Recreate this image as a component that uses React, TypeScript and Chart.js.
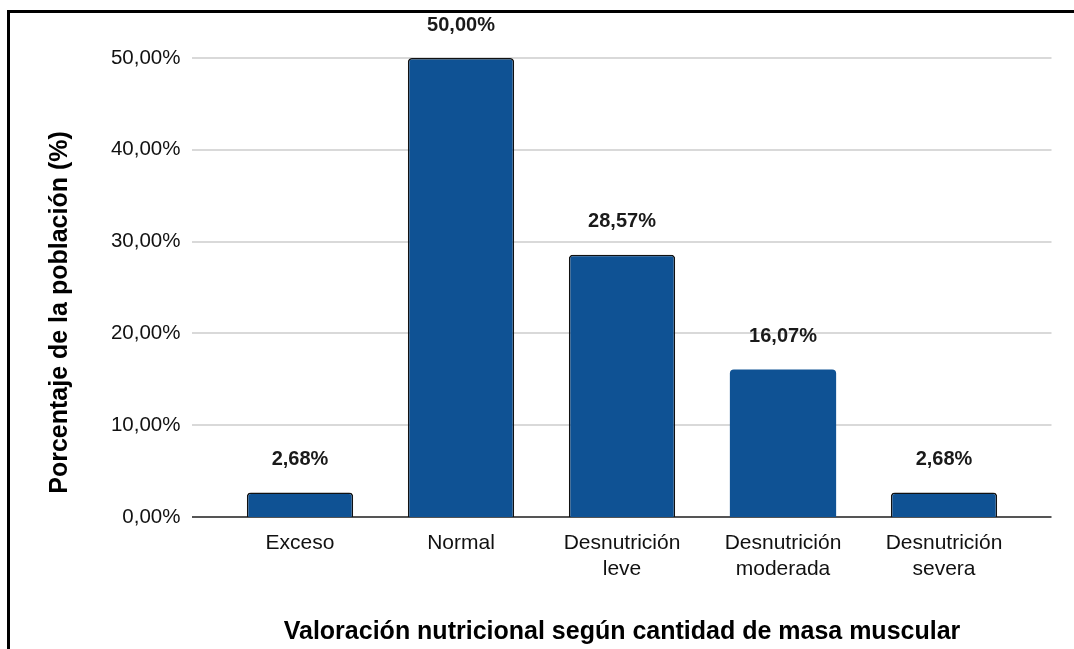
import React, { useEffect, useRef } from "react";
import { Chart, registerables } from "chart.js";

Chart.register(...registerables);

const categories: (string | string[])[] = [
  "Exceso",
  "Normal",
  ["Desnutrición", "leve"],
  ["Desnutrición", "moderada"],
  ["Desnutrición", "severa"],
];
const percentages: number[] = [2.68, 50.0, 28.57, 16.07, 2.68];
const barBorderWidths: number[] = [1.5, 1.5, 1.5, 0, 1.5];
const yTitle = "Porcentaje de la población (%)";
const xTitle = "Valoración nutricional según cantidad de masa muscular";

const FONT = '"Liberation Sans", Arial, Helvetica, sans-serif';
const fmt = (v: number) => v.toFixed(2).replace(".", ",") + "%";

export default function App() {
  const ref = useRef<HTMLCanvasElement | null>(null);

  useEffect(() => {
    if (!ref.current) return;
    const gridPlugin = {
      id: "customGrid",
      beforeDatasetsDraw(chart: any) {
        const { ctx, chartArea, scales } = chart;
        const y = scales.y;
        ctx.save();
        y.ticks.forEach((t: any) => {
          const py = Math.round(y.getPixelForValue(t.value));
          if (t.value === 0) {
            ctx.strokeStyle = "#555555";
            ctx.lineWidth = 2;
          } else {
            ctx.strokeStyle = "#cccccc";
            ctx.lineWidth = 1.5;
          }
          ctx.beginPath();
          ctx.moveTo(chartArea.left - 27.5, py);
          ctx.lineTo(chartArea.right + 27, py);
          ctx.stroke();
        });
        ctx.restore();
      },
      afterDatasetsDraw(chart: any) {
        const { ctx } = chart;
        const meta = chart.getDatasetMeta(0);
        ctx.save();
        ctx.fillStyle = "#1a1a1a";
        ctx.font = `bold 20px ${FONT}`;
        ctx.textAlign = "center";
        ctx.textBaseline = "middle";
        meta.data.forEach((bar: any, i: number) => {
          ctx.fillText(fmt(percentages[i]), bar.x, bar.y - 33);
        });
        // axis titles
        ctx.font = `bold 25px ${FONT}`;
        ctx.fillStyle = "#000000";
        ctx.fillText(xTitle, 622, 632);
        ctx.translate(60, 312.5);
        ctx.rotate(-Math.PI / 2);
        ctx.fillText(yTitle, 0, 0);
        ctx.restore();
      },
    };

    const chart = new Chart(ref.current, {
      type: "bar",
      data: {
        labels: categories,
        datasets: [
          {
            data: percentages,
            backgroundColor: "#0f5294",
            borderColor: "#111111",
            borderWidth: barBorderWidths,
            borderRadius: { topLeft: 4, topRight: 4, bottomLeft: 0, bottomRight: 0 },
            borderSkipped: "bottom",
            barPercentage: 0.66,
            categoryPercentage: 1,
          },
        ],
      },
      options: {
        responsive: false,
        animation: false,
        devicePixelRatio: 1,
        layout: { padding: { left: 0, right: 49.5, top: 58, bottom: 0 } },
        plugins: { legend: { display: false }, tooltip: { enabled: false } },
        scales: {
          x: {
            grid: { display: false, drawTicks: false },
            border: { display: false },
            ticks: {
              color: "#111111",
              font: { family: FONT, size: 21 },
              padding: 14,
              maxRotation: 0,
              autoSkip: false,
            },
            afterFit(scale: any) {
              scale.height = 132;
            },
          },
          y: {
            min: 0,
            max: 50,
            grid: { display: false, drawTicks: false },
            border: { display: false },
            ticks: {
              stepSize: 10,
              color: "#111111",
              font: { family: FONT, size: 20.5 },
              padding: 39,
              callback: (v: any) => fmt(Number(v)),
            },
            afterFit(scale: any) {
              scale.width = 219.5;
            },
          },
        },
      },
      plugins: [gridPlugin],
    });
    return () => chart.destroy();
  }, []);

  return (
    <div style={{ position: "absolute", left: 0, top: 0, width: 1074, height: 649, overflow: "hidden", background: "#ffffff" }}>
      <canvas ref={ref} width={1074} height={649} style={{ position: "absolute", left: 0, top: 0 }} />
      <div
        style={{
          position: "absolute",
          left: 7,
          top: 10,
          width: 1200,
          height: 800,
          borderTop: "3px solid #000",
          borderLeft: "3px solid #000",
          pointerEvents: "none",
        }}
      />
    </div>
  );
}
